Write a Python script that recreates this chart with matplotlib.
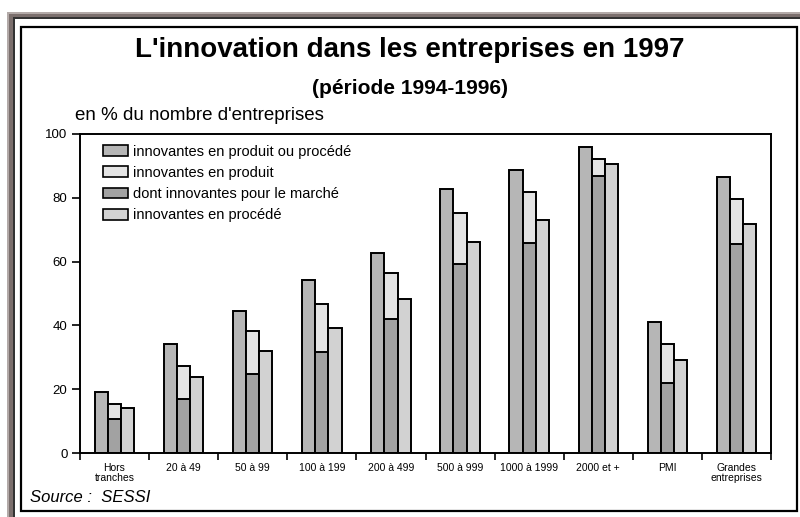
import matplotlib.pyplot as plt
from matplotlib.patches import Patch, Rectangle

categories = ["Hors\ntranches", "20 à 49", "50 à 99", "100 à 199", "200 à 499",
              "500 à 999", "1000 à 1999", "2000 et +", "PMI", "Grandes\nentreprises"]

produit_ou_procede = [19.2, 34.1, 44.5, 54.2, 62.6, 82.7, 88.8, 95.8, 41.0, 86.4]
produit = [15.4, 27.3, 38.2, 46.7, 56.3, 75.1, 81.9, 92.1, 34.2, 79.6]
pour_le_marche = [10.6, 16.9, 24.9, 31.8, 42.0, 59.1, 65.9, 86.9, 22.0, 65.4]
procede = [14.2, 23.9, 31.9, 39.2, 48.3, 66.0, 72.9, 90.5, 29.0, 71.7]

labels = ["innovantes en produit ou procédé", "innovantes en produit",
          "dont innovantes pour le marché", "innovantes en procédé"]

c_both = "#b6b6b6"
c_prod = "#e4e4e4"
c_marche = "#a2a2a2"
c_proc = "#d2d2d2"

plt.rcParams["font.family"] = ["Liberation Sans", "DejaVu Sans"]

fig = plt.figure(figsize=(8, 5.17), dpi=100)

# frame around the picture
fig.patches.append(Rectangle((7 / 800, 0), 1, 1 - 12 / 517, transform=fig.transFigure,
                             facecolor="#b3aaa8", edgecolor="none", zorder=0))
fig.patches.append(Rectangle((9 / 800, 0), 1, 1 - 14 / 517, transform=fig.transFigure,
                             facecolor="#7b6f6d", edgecolor="none", zorder=0))
fig.patches.append(Rectangle((13 / 800, 0), 1, 1 - 17 / 517, transform=fig.transFigure,
                             facecolor="#333333", edgecolor="none", zorder=0))
fig.patches.append(Rectangle((15 / 800, 0), 1, 1 - 19 / 517, transform=fig.transFigure,
                             facecolor="white", edgecolor="none", zorder=0))
fig.patches.append(Rectangle((21 / 800, 6 / 517), 776 / 800, 484 / 517,
                             transform=fig.transFigure, facecolor="white",
                             edgecolor="black", linewidth=1.6, zorder=0))

ax = fig.add_axes([80 / 800, 64 / 517, 691 / 800, 319 / 517])
ax.set_zorder(5)
ax.patch.set_alpha(0)

x = list(range(len(categories)))
w = 0.19

ax.bar([i - w for i in x], produit_ou_procede, width=w, color=c_both,
       edgecolor="black", linewidth=1.4)
ax.bar(x, produit, width=w, color=c_prod, edgecolor="black", linewidth=1.4)
ax.bar(x, pour_le_marche, width=w, color=c_marche, edgecolor="black", linewidth=1.4)
ax.bar([i + w for i in x], procede, width=w, color=c_proc,
       edgecolor="black", linewidth=1.4)

ax.set_xlim(-0.5, len(categories) - 0.5)
ax.set_ylim(0, 100)

ax.set_yticks([0, 20, 40, 60, 80, 100])
ax.tick_params(axis="y", direction="out", length=6, width=1.2, labelsize=9.5, pad=3)

ax.set_xticks([i - 0.5 for i in range(len(categories) + 1)])
ax.set_xticklabels([])
ax.tick_params(axis="x", direction="out", length=5, width=1.2)
for i, cat in enumerate(categories):
    ax.text(i, -3.2, cat, ha="center", va="top", fontsize=7.5, linespacing=0.95)

for s in ax.spines.values():
    s.set_linewidth(1.4)

handles = [Patch(facecolor=c, edgecolor="black", linewidth=1.2)
           for c in (c_both, c_prod, c_marche, c_proc)]
ax.legend(handles, labels, loc="upper left", bbox_to_anchor=(0.025, 0.985),
          frameon=False, fontsize=10.5, handlelength=1.7, handleheight=0.75,
          handletextpad=0.35, labelspacing=0.5, borderaxespad=0)

fig.text(0.512, 1 - 50 / 517, "L'innovation dans les entreprises en 1997",
         ha="center", va="center", fontsize=20, fontweight="bold")
fig.text(0.512, 1 - 88 / 517, "(période 1994-1996)", ha="center", va="center",
         fontsize=15, fontweight="bold")
fig.text(75 / 800, 1 - 115 / 517, "en % du nombre d'entreprises", ha="left",
         va="center", fontsize=13.5)
fig.text(30 / 800, 1 - 497 / 517, "Source :  SESSI", ha="left", va="center",
         fontsize=12, style="italic")

fig.savefig("out.png", dpi=100)
